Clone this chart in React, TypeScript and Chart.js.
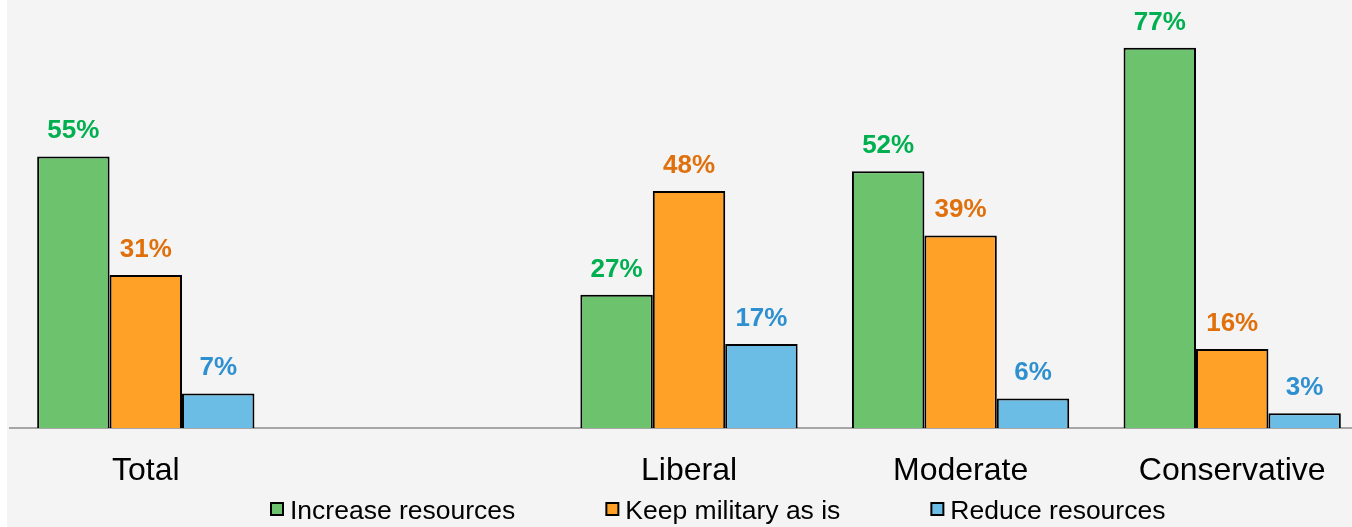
import React, { useEffect, useRef } from 'react';
import { Chart, registerables } from 'chart.js';

Chart.register(...registerables);

const categories = ['Total', '', 'Liberal', 'Moderate', 'Conservative'];
const increaseResources = [55, null, 27, 52, 77];
const keepMilitaryAsIs = [31, null, 48, 39, 16];
const reduceResources = [7, null, 17, 6, 3];
const seriesLabels = ['Increase resources', 'Keep military as is', 'Reduce resources'];

const FONT = "'Liberation Sans', Arial, Helvetica, sans-serif";
const barColors = ['#6DC36D', '#FFA126', '#6CBDE6'];
const labelColors = ['#00B050', '#E0700C', '#2E90D0'];

const valueLabelPlugin = {
  id: 'valueLabels',
  afterDatasetsDraw(chart: any) {
    const ctx = chart.ctx;
    ctx.save();
    ctx.font = `bold 26px ${FONT}`;
    ctx.textAlign = 'center';
    ctx.textBaseline = 'alphabetic';
    chart.data.datasets.forEach((ds: any, i: number) => {
      const meta = chart.getDatasetMeta(i);
      ctx.fillStyle = labelColors[i];
      meta.data.forEach((el: any, j: number) => {
        const v = ds.data[j];
        if (v === null || v === undefined) return;
        ctx.fillText(`${v}%`, el.x, el.y - 18);
      });
    });
    ctx.restore();
  },
};

const legendPlugin = {
  id: 'customLegend',
  afterDraw(chart: any) {
    const ctx = chart.ctx;
    ctx.save();
    ctx.font = `26.5px ${FONT}`;
    ctx.textAlign = 'left';
    ctx.textBaseline = 'alphabetic';
    let x = 270;
    chart.data.datasets.forEach((ds: any, i: number) => {
      ctx.fillStyle = barColors[i];
      ctx.fillRect(x + 1, 503, 12, 12);
      ctx.lineWidth = 2;
      ctx.strokeStyle = '#000';
      ctx.strokeRect(x + 1, 503, 12, 12);
      ctx.fillStyle = '#000';
      ctx.fillText(ds.label, x + 20, 519);
      x += 20 + ctx.measureText(ds.label).width + 90;
    });
    ctx.restore();
  },
};

export default function App() {
  const ref = useRef<HTMLCanvasElement | null>(null);

  useEffect(() => {
    if (!ref.current) return;
    const chart = new Chart(ref.current, {
      type: 'bar',
      data: {
        labels: categories,
        datasets: [
          { label: seriesLabels[0], data: increaseResources, backgroundColor: barColors[0], borderColor: '#000', borderWidth: 2 },
          { label: seriesLabels[1], data: keepMilitaryAsIs, backgroundColor: barColors[1], borderColor: '#000', borderWidth: 2 },
          { label: seriesLabels[2], data: reduceResources, backgroundColor: barColors[2], borderColor: '#000', borderWidth: 2 },
        ],
      },
      options: {
        responsive: false,
        animation: false,
        devicePixelRatio: 1,
        layout: { padding: { left: 10, right: 12, top: 33, bottom: 39 } },
        plugins: { legend: { display: false }, tooltip: { enabled: false } },
        datasets: { bar: { categoryPercentage: 0.8, barPercentage: 1.0 } },
        scales: {
          x: {
            grid: { display: false, drawTicks: false },
            border: { display: true, color: '#A6A6A6', width: 2 },
            ticks: { color: '#000', font: { family: FONT, size: 32 }, padding: 24, maxRotation: 0, autoSkip: false },
            afterFit: (scale: any) => { scale.height = 60; },
          },
          y: { display: false, min: 0, max: 80 },
        },
      },
      plugins: [valueLabelPlugin, legendPlugin],
    } as any);
    return () => chart.destroy();
  }, []);

  return (
    <div style={{ position: 'fixed', left: 0, top: 0, width: 1352, height: 527, overflow: 'hidden', background: '#fff' }}>
      <div style={{ position: 'absolute', left: 7, top: 0, right: 0, bottom: 0, background: '#F4F4F4' }} />
      <canvas ref={ref} width={1380} height={527} style={{ position: 'absolute', left: 0, top: 0, width: 1380, height: 527 }} />
    </div>
  );
}
